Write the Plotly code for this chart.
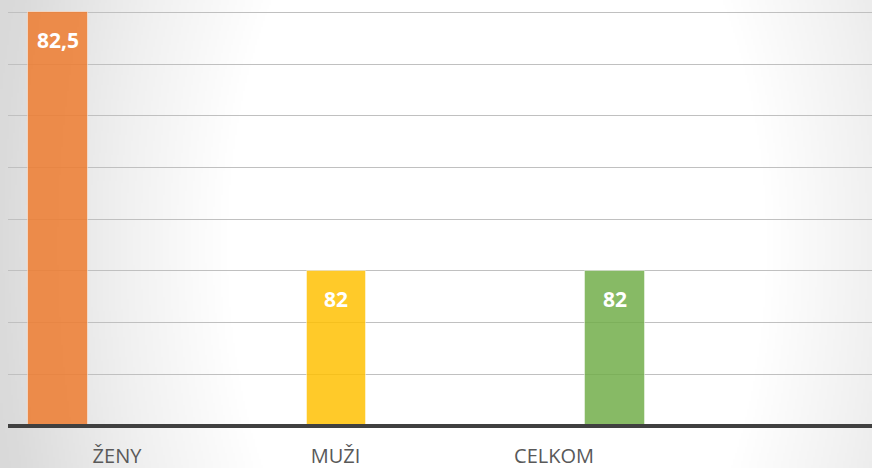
import base64, struct, zlib, math
import plotly.graph_objects as go

# ---- data ----
categories = ["ŽENY", "MUŽI", "CELKOM"]
values = [82.5, 82, 82]
value_labels = ["82,5", "82", "82"]
bar_colors = ["rgba(237,125,49,0.86)", "rgba(255,192,0,0.84)", "rgba(112,173,71,0.84)"]

W, H = 872, 468
ML, MR, MT, MB = 8, 0, 0, 44
PW, PH = W - ML - MR, H - MT - MB

# ---- radial gradient background as an inline PNG ----
def gradient_png(w, h, scale):
    cx, cy, ky = 497, 246, 0.6
    stops = [(0, 0), (267, 0), (375, 15), (405, 20), (497, 37), (560, 41), (2000, 41)]
    def drop(d):
        for (d0, v0), (d1, v1) in zip(stops, stops[1:]):
            if d <= d1:
                return v0 + (v1 - v0) * (d - d0) / (d1 - d0)
        return stops[-1][1]
    rows = []
    for j in range(h):
        row = bytearray([0])
        for i in range(w):
            x, y = (i + 0.5) * scale, (j + 0.5) * scale
            d = math.hypot(x - cx, (y - cy) * ky)
            row.append(int(round(255 - drop(d))))
        rows.append(bytes(row))
    raw = b"".join(rows)
    def chunk(t, data):
        c = struct.pack(">I", len(data)) + t + data
        return c + struct.pack(">I", zlib.crc32(t + data) & 0xffffffff)
    png = b"\x89PNG\r\n\x1a\n" + chunk(b"IHDR", struct.pack(">IIBBBBB", w, h, 8, 0, 0, 0, 0))
    png += chunk(b"IDAT", zlib.compress(raw, 9)) + chunk(b"IEND", b"")
    return "data:image/png;base64," + base64.b64encode(png).decode()

bg = gradient_png(W // 2, H // 2, 2)

idx = list(range(len(categories)))

fig = go.Figure()
fig.add_trace(go.Bar(
    x=idx, y=values, width=0.2136,
    marker=dict(color=bar_colors, line=dict(color="rgba(255,255,255,0.45)", width=1)),
    hoverinfo="skip", showlegend=False,
))

# bar px scale
bar_pitch = 278.6
bar0 = 49.8
lab_pitch = 218.5
lab0 = 109

y_px = 517.0
y_top = 82.5 + 12.3 / y_px
y_bottom = y_top - PH / y_px

fig.update_layout(
    width=W, height=H,
    margin=dict(l=ML, r=MR, t=MT, b=MB, pad=0, autoexpand=False),
    paper_bgcolor="white",
    plot_bgcolor="rgba(0,0,0,0)",
    images=[dict(source=bg, xref="paper", yref="paper",
                 x=-ML / PW, y=1 + MT / PH, sizex=W / PW, sizey=H / PH,
                 xanchor="left", yanchor="top", sizing="stretch", layer="below")],
    xaxis=dict(range=[-bar0 / bar_pitch, (PW - bar0) / bar_pitch], automargin=False,
               showticklabels=False, showgrid=False, zeroline=False,
               showline=True, linecolor="#404040", linewidth=4, ticks=""),
    xaxis2=dict(overlaying="x", anchor="y", side="bottom", automargin=False,
                range=[-lab0 / lab_pitch, (PW - lab0) / lab_pitch],
                tickvals=idx, ticktext=categories, ticks="",
                showgrid=False, zeroline=False, showline=False,
                tickfont=dict(family="Open Sans", size=20, color="#595959"),
                ticklabelstandoff=18),
    yaxis=dict(range=[y_bottom, y_top], dtick=0.1, tick0=81.7, automargin=False,
               showticklabels=False, showgrid=True, gridcolor="#c0c0c0",
               gridwidth=1.4, zeroline=False, ticks=""),
    bargap=0,
)

fig.add_trace(go.Scatter(x=[None], y=[None], xaxis="x2", yaxis="y",
                         showlegend=False, hoverinfo="skip"))

for i, (v, t) in enumerate(zip(values, value_labels)):
    fig.add_annotation(x=i, y=v, xref="x", yref="y", text=t, showarrow=False,
                       yanchor="top", yshift=-12,
                       font=dict(family="Open Sans", size=21, color="white", weight="bold"))

fig.write_html("out.html", config={"displayModeBar": False},
               post_script="document.body.style.margin='0';document.body.style.overflow='hidden';")
